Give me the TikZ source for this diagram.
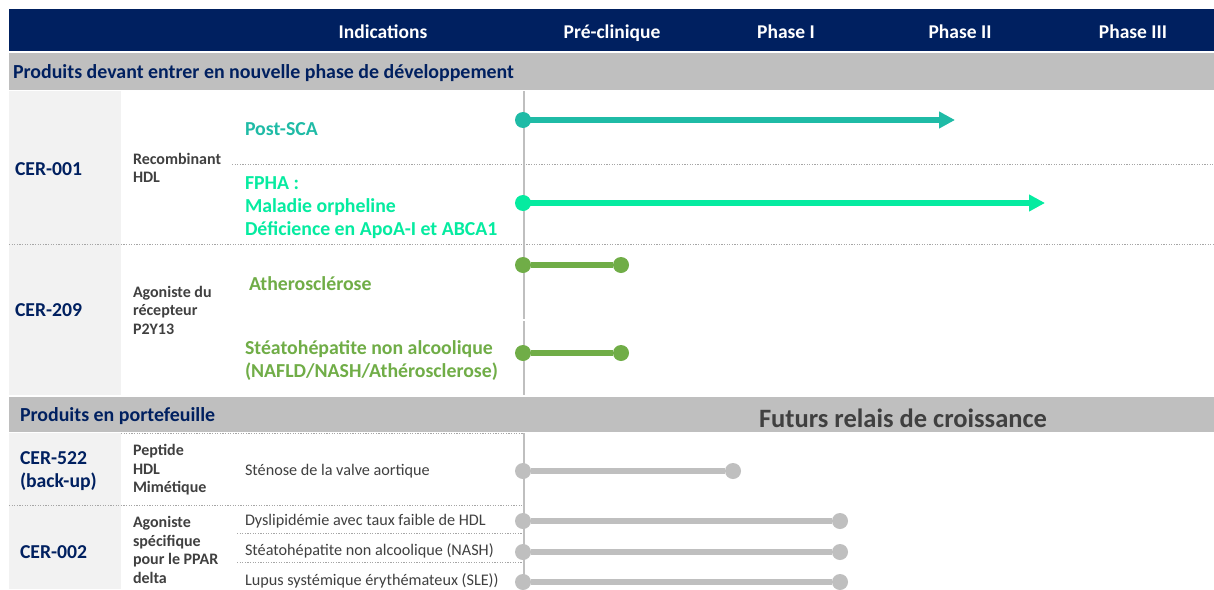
\documentclass[tikz,border=0pt]{standalone}
\usepackage{fontspec}
\setmainfont{Carlito}
\usetikzlibrary{arrows.meta}
\definecolor{navy}{HTML}{002060}
\definecolor{bandgray}{HTML}{BFBFBF}
\definecolor{colgray}{HTML}{F2F2F2}
\definecolor{txtgray}{HTML}{404040}
\definecolor{dotgray}{HTML}{A6A6A6}
\definecolor{teal1}{HTML}{1FBBA6}
\definecolor{mint}{HTML}{05EBA0}
\definecolor{leaf}{HTML}{70AD47}
\definecolor{linegray}{HTML}{BFBFBF}
\tikzset{
  txt/.style={anchor=base west, inner sep=0pt, outer sep=0pt},
  hdr/.style={anchor=base, inner sep=0pt, text=white, font=\fontsize{19.5}{23}\selectfont\bfseries},
  bandtitle/.style={txt, text=navy, font=\fontsize{19.9}{23}\selectfont\bfseries},
  prod/.style={txt, text=navy, font=\fontsize{19.7}{23}\selectfont\bfseries},
  desc/.style={txt, text=txtgray, font=\fontsize{16}{18.5}\selectfont\bfseries},
  indbig/.style={txt, font=\fontsize{19.8}{23}\selectfont\bfseries},
  indsmall/.style={txt, text=txtgray, font=\fontsize{16.2}{19}\selectfont},
  sep/.style={draw=dotgray, line width=1pt, dash pattern=on 1.2pt off 1.4pt},
  axis/.style={draw=linegray, line width=1.6pt},
  bar/.style={line width=5.5pt},
  dotn/.style={circle, inner sep=0pt, minimum size=16pt, fill=#1},
}
\begin{document}
\begin{tikzpicture}[x=1pt,y=-1pt]
\useasboundingbox (0,0) rectangle (1214,589);
\fill[white] (0,0) rectangle (1214,589);
% header
\fill[navy] (9,9) rectangle (1214,51);
\node[hdr] (hInd) at (383,38) {Indications};
\node[hdr] (hPre) at (612,38) {Pré-clinique};
\node[hdr] (hP1) at (786,38) {Phase I};
\node[hdr] (hP2) at (960,38) {Phase II};
\node[hdr] (hP3) at (1133,38) {Phase III};
% band 1
\fill[bandgray] (9,53) rectangle (1214,90);
\node[bandtitle] (b1) at (13,78) {Produits devant entrer en nouvelle phase de développement};
% left column top
\fill[colgray] (9,91) rectangle (121,395);
% separators top
\draw[sep] (232,164) -- (1214,164);
\draw[sep] (9,244) -- (1214,244);
% axis top
\draw[axis] (524,91) -- (524,319);
\draw[axis] (524,321) -- (524,395);
% band 2
\fill[bandgray] (9,397) rectangle (1214,432);
\node[bandtitle] (b2) at (20,421) {Produits en portefeuille};
\node[anchor=base, inner sep=0pt, text=txtgray, font=\fontsize{26.5}{30}\selectfont\bfseries] (fut) at (903,427.5) {Futurs relais de croissance};
% left column bottom
\fill[colgray] (9,433) rectangle (121,589);
\draw[sep] (121,433.5) -- (523,433.5);
\draw[sep] (9,505) -- (523,505);
\draw[sep] (237,533) -- (523,533);
\draw[sep] (237,562) -- (523,562);
\draw[axis] (524,433) -- (524,589);
% products
\node[prod] (p1) at (15,175.5) {CER-001};
\node[prod] (p2) at (15,316) {CER-209};
\node[prod] (p3) at (20,464) {CER-522};
\node[prod] (p3b) at (20,487) {(back-up)};
\node[prod] (p4) at (20,558) {CER-002};
% descriptions
\node[desc] (d1a) at (133,164.5) {Recombinant};
\node[desc] (d1b) at (133,182.5) {HDL};
\node[desc] (d2a) at (133,297) {Agoniste du};
\node[desc] (d2b) at (133,315.5) {récepteur};
\node[desc] (d2c) at (133,334) {P2Y13};
\node[desc] (d3a) at (133,455) {Peptide};
\node[desc] (d3b) at (133,474) {HDL};
\node[desc] (d3c) at (133,492.5) {Mimétique};
\node[desc] (d4a) at (133,527) {Agoniste};
\node[desc] (d4b) at (133,546) {spécifique};
\node[desc] (d4c) at (133,564.5) {pour le PPAR};
\node[desc] (d4d) at (133,583) {delta};
% indications
\node[indbig, text=teal1] (i1) at (245,135) {Post-SCA};
\node[indbig, text=mint] (i2a) at (245,189) {FPHA :};
\node[indbig, text=mint] (i2b) at (245,212) {Maladie orpheline};
\node[indbig, text=mint] (i2c) at (245,235) {Déficience en ApoA-I et ABCA1};
\node[indbig, text=leaf] (i3) at (249,290) {Atherosclérose};
\node[indbig, text=leaf] (i4a) at (245,354) {Stéatohépatite non alcoolique};
\node[indbig, text=leaf] (i4b) at (245,377) {(NAFLD/NASH/Athérosclerose)};
\node[indsmall] (i5) at (245,475) {Sténose de la valve aortique};
\node[indsmall] (i6) at (245,525) {Dyslipidémie avec taux faible de HDL};
\node[indsmall] (i7) at (245,555.5) {Stéatohépatite non alcoolique (NASH)};
\node[indsmall] (i8) at (245,585.5) {Lupus systémique érythémateux (SLE))};
% timeline bars
\coordinate (a1e) at (955,120);
\coordinate (a2e) at (1045,203);
\node[dotn=teal1] (a1s) at (523,120) {};
\draw[bar, teal1, -{Triangle[length=16pt,width=16pt]}] (a1s.center) -- (a1e);
\node[dotn=mint] (a2s) at (523,203) {};
\draw[bar, mint, -{Triangle[length=16pt,width=16pt]}] (a2s.center) -- (a2e);
\node[dotn=leaf] (g1s) at (523,265) {};
\node[dotn=leaf] (g1e) at (621,265) {};
\draw[bar, leaf] (g1s) -- (g1e);
\node[dotn=leaf] (g2s) at (523,353) {};
\node[dotn=leaf] (g2e) at (621,353) {};
\draw[bar, leaf] (g2s) -- (g2e);
\node[dotn=linegray] (r1s) at (523,471) {};
\node[dotn=linegray] (r1e) at (733,471) {};
\draw[bar, linegray] (r1s) -- (r1e);
\node[dotn=linegray] (r2s) at (523,521) {};
\node[dotn=linegray] (r2e) at (840,521) {};
\draw[bar, linegray] (r2s) -- (r2e);
\node[dotn=linegray] (r3s) at (523,552) {};
\node[dotn=linegray] (r3e) at (840,552) {};
\draw[bar, linegray] (r3s) -- (r3e);
\node[dotn=linegray] (r4s) at (523,582) {};
\node[dotn=linegray] (r4e) at (840,582) {};
\draw[bar, linegray] (r4s) -- (r4e);
\end{tikzpicture}
\end{document}
